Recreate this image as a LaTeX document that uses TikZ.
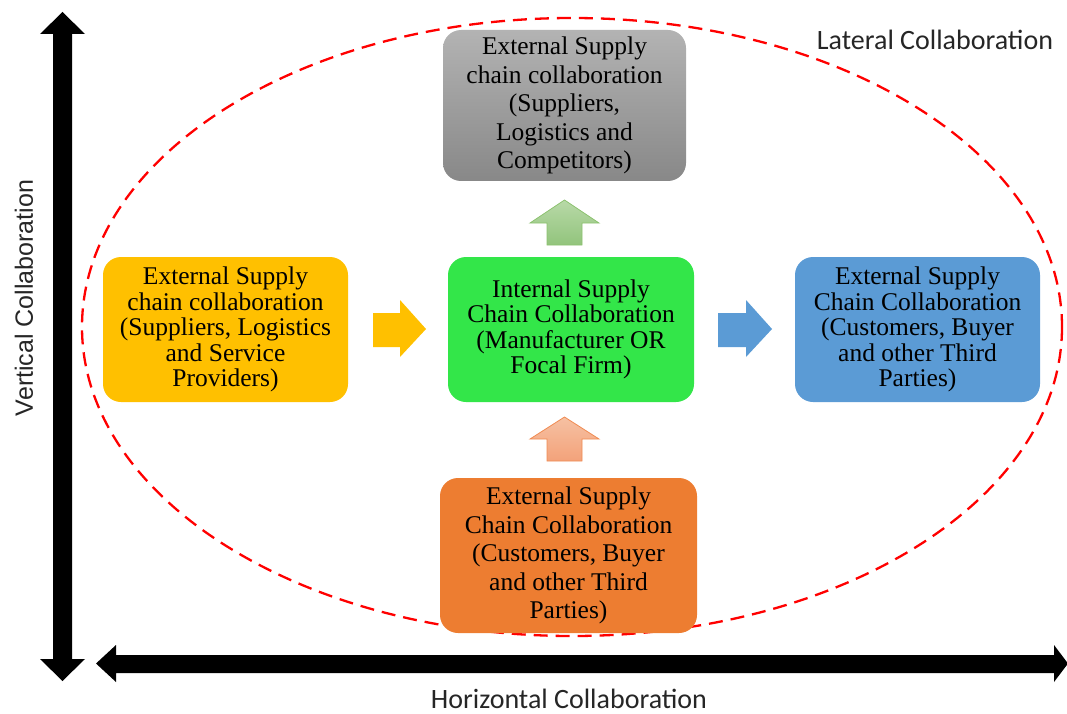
\documentclass[tikz,border=0pt]{standalone}
\usepackage{fontspec}
\setmainfont{Liberation Serif}
\newfontfamily\labelfont{Carlito}
\newfontfamily\sidefont{Liberation Sans}
\definecolor{boxgrayA}{HTML}{B3B3B3}
\definecolor{boxgrayB}{HTML}{888888}
\definecolor{boxyellow}{HTML}{FFC000}
\definecolor{boxgreen}{HTML}{33E649}
\definecolor{boxblue}{HTML}{5B9BD5}
\definecolor{boxorange}{HTML}{ED7D31}
\definecolor{arrgreenA}{HTML}{B8D9A8}
\definecolor{arrgreenB}{HTML}{92C47C}
\definecolor{arrgreenE}{HTML}{8CC26F}
\definecolor{arrorangeA}{HTML}{F6C1A3}
\definecolor{arrorangeB}{HTML}{F3A27A}
\definecolor{arrorangeE}{HTML}{F08B52}
\tikzset{
  block/.style={rounded corners=18pt, align=center, inner sep=3pt},
  tight/.style={font=\fontsize{25.5}{25.5}\selectfont},
  loose/.style={font=\fontsize{25.5}{28.5}\selectfont},
  axislabel/.style={font=\labelfont\fontsize{28}{30}\selectfont, text=black!85, inner sep=0pt},
  sidelabel/.style={font=\sidefont\fontsize{25}{27}\selectfont, text=black!85, inner sep=0pt},
}
\begin{document}
\begin{tikzpicture}[x=1pt,y=-1pt]
\useasboundingbox (0,0) rectangle (1067,714);

% lateral collaboration boundary
\draw[red, line width=2.3pt, dash pattern=on 14pt off 8pt] (572,327) ellipse [x radius=490, y radius=309];

% collaboration boxes
\node[block, loose, top color=boxgrayA, bottom color=boxgrayB, minimum width=243pt, minimum height=151pt]
  (top) at (564.5,105.5) {External Supply\\chain collaboration\\(Suppliers,\\Logistics and\\Competitors)};
\node[block, tight, fill=boxyellow, minimum width=245pt, minimum height=145pt]
  (left) at (225.5,329.5) {External Supply\\chain collaboration\\(Suppliers, Logistics\\and Service\\Providers)};
\node[block, tight, fill=boxgreen, minimum width=246pt, minimum height=145pt]
  (mid) at (571,329.5) {Internal Supply\\Chain Collaboration\\(Manufacturer OR\\Focal Firm)};
\node[block, tight, fill=boxblue, minimum width=245pt, minimum height=145pt]
  (right) at (917.5,329.5) {External Supply\\Chain Collaboration\\(Customers, Buyer\\and other Third\\Parties)};
\node[block, loose, fill=boxorange, minimum width=257pt, minimum height=155pt]
  (bottom) at (568.5,555.5) {External Supply\\Chain Collaboration\\(Customers, Buyer\\and other Third\\Parties)};

% block arrows between boxes
\fill[boxyellow] (373,313) -- (400,313) -- (400,300) -- (426,329) -- (400,357) -- (400,347) -- (373,347) -- cycle;
\fill[boxblue] (718,313) -- (746,313) -- (746,300) -- (772,329) -- (746,357) -- (746,347) -- (718,347) -- cycle;
\draw[arrgreenE, line width=0.8pt, top color=arrgreenA, bottom color=arrgreenB]
  (547,245) -- (547,223) -- (530,223) -- (564.5,200) -- (599,223) -- (582,223) -- (582,245) -- cycle;
\draw[arrorangeE, line width=0.8pt, top color=arrorangeA, bottom color=arrorangeB]
  (547,461) -- (547,439) -- (530,439) -- (564.5,417) -- (599,439) -- (582,439) -- (582,461) -- cycle;

% axes
\fill[black] (62.5,12) -- (85,34) -- (72,34) -- (72,659) -- (85,659) -- (62.5,681)
  -- (40,659) -- (53,659) -- (53,34) -- (40,34) -- cycle;
\fill[black] (96,663.5) -- (116,645) -- (116,655) -- (1054,655) -- (1054,645) -- (1068,663.5)
  -- (1054,682) -- (1054,673) -- (116,673) -- (116,682) -- cycle;

% axis and region labels
\node[axislabel] (lateral) at (935,40) {Lateral Collaboration};
\node[axislabel] (horizontal) at (569,699) {Horizontal Collaboration};
\node[sidelabel, rotate=90] (vertical) at (24,298) {Vertical Collaboration};
\end{tikzpicture}
\end{document}
